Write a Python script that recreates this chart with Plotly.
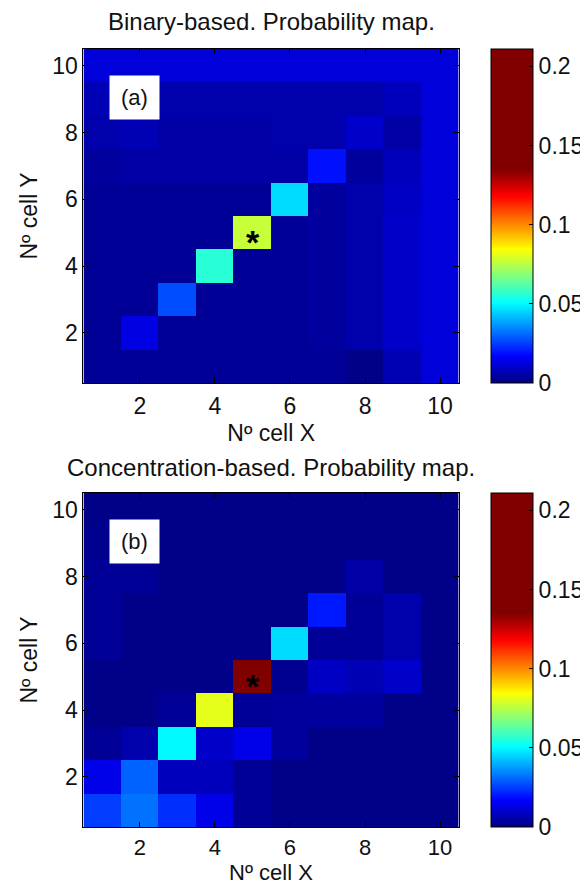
import plotly.graph_objects as go

# Cell indices
cells_x = [1, 2, 3, 4, 5, 6, 7, 8, 9, 10]
cells_y = [1, 2, 3, 4, 5, 6, 7, 8, 9, 10]
x_ticks = [2, 4, 6, 8, 10]
y_ticks = [2, 4, 6, 8, 10]
cbar_ticks = [0, 0.05, 0.1, 0.15, 0.2]
cbar_labels = ["0", "0.05", "0.1", "0.15", "0.2"]

title_a = "Binary-based. Probability map."
title_b = "Concentration-based. Probability map."
x_title = "Nº cell X"
y_title = "Nº cell Y"

# Probability values, rows listed from Y=10 (top) down to Y=1 (bottom)
prob_binary_rows = [
    [0.012, 0.012, 0.012, 0.012, 0.012, 0.012, 0.012, 0.012, 0.012, 0.012],
    [0.007, 0.007, 0.006, 0.006, 0.006, 0.006, 0.006, 0.006, 0.008, 0.012],
    [0.006, 0.007, 0.005, 0.005, 0.005, 0.006, 0.006, 0.010, 0.005, 0.012],
    [0.004, 0.005, 0.005, 0.005, 0.005, 0.005, 0.019, 0.004, 0.008, 0.012],
    [0.003, 0.003, 0.003, 0.003, 0.003, 0.046, 0.004, 0.006, 0.009, 0.012],
    [0.003, 0.003, 0.003, 0.003, 0.077, 0.003, 0.004, 0.006, 0.010, 0.012],
    [0.003, 0.003, 0.003, 0.056, 0.003, 0.003, 0.004, 0.006, 0.010, 0.012],
    [0.003, 0.003, 0.027, 0.003, 0.003, 0.003, 0.004, 0.006, 0.010, 0.012],
    [0.003, 0.013, 0.003, 0.003, 0.003, 0.003, 0.004, 0.006, 0.010, 0.012],
    [0.003, 0.003, 0.003, 0.003, 0.003, 0.003, 0.003, 0.001, 0.007, 0.012],
]

prob_conc_rows = [
    [0.001, 0.001, 0.001, 0.001, 0.001, 0.001, 0.001, 0.001, 0.001, 0.001],
    [0.002, 0.002, 0.001, 0.001, 0.001, 0.001, 0.001, 0.001, 0.001, 0.001],
    [0.003, 0.003, 0.001, 0.001, 0.001, 0.001, 0.001, 0.005, 0.001, 0.001],
    [0.003, 0.001, 0.001, 0.001, 0.001, 0.001, 0.020, 0.003, 0.006, 0.001],
    [0.003, 0.001, 0.001, 0.001, 0.001, 0.046, 0.003, 0.003, 0.006, 0.001],
    [0.001, 0.001, 0.001, 0.001, 0.200, 0.002, 0.009, 0.007, 0.010, 0.001],
    [0.001, 0.001, 0.003, 0.081, 0.003, 0.004, 0.004, 0.004, 0.001, 0.001],
    [0.003, 0.006, 0.050, 0.010, 0.014, 0.004, 0.001, 0.001, 0.001, 0.001],
    [0.014, 0.030, 0.008, 0.008, 0.003, 0.001, 0.001, 0.001, 0.001, 0.001],
    [0.025, 0.032, 0.023, 0.014, 0.003, 0.001, 0.001, 0.001, 0.001, 0.001],
]

source_x = 5
source_y = 5

z_min = 0.0
z_max = 0.211

# jet colormap saturating at ~0.135, dark red above
jet_scale = [
    [0.00, "rgb(0,0,128)"],
    [0.08, "rgb(0,0,255)"],
    [0.24, "rgb(0,255,255)"],
    [0.40, "rgb(255,255,0)"],
    [0.56, "rgb(255,0,0)"],
    [0.64, "rgb(128,0,0)"],
    [1.00, "rgb(128,0,0)"],
]

FONT = "Liberation Sans, Arial, sans-serif"
OFF = 8  # default page body margin
W, H = 588 - OFF, 886 - OFF

z_a = prob_binary_rows[::-1]
z_b = prob_conc_rows[::-1]

fig = go.Figure()

def py(p):
    return 1 - (p - OFF) / H

def px(p):
    return (p - OFF) / W

panels = [
    dict(z=z_a, xa="x", ya="y", top=49, bot=383, label="(a)", title=title_a, title_y=21),
    dict(z=z_b, xa="x2", ya="y2", top=493, bot=827, label="(b)", title=title_b, title_y=467),
]

for p in panels:
    cy = py((p["top"] + p["bot"]) / 2)
    fig.add_trace(go.Heatmap(
        x=cells_x, y=cells_y, z=p["z"], xaxis=p["xa"], yaxis=p["ya"],
        zmin=z_min, zmax=z_max, colorscale=jet_scale,
        colorbar=dict(
            x=px(494), xanchor="left", xpad=0, ypad=0,
            y=cy, yanchor="middle", len=p["bot"] - p["top"], lenmode="pixels",
            thickness=42, thicknessmode="pixels",
            outlinecolor="black", outlinewidth=1,
            tickvals=cbar_ticks, ticktext=cbar_labels,
            ticks="inside", ticklen=4, tickcolor="black",
            tickfont=dict(family=FONT, size=23, color="#111"),
        ),
        hoverinfo="skip",
    ))

axis_common = dict(
    range=[0.5, 10.5], showline=True, linecolor="black", linewidth=1,
    mirror="ticks", ticks="inside", ticklen=5, tickcolor="black",
    tickfont=dict(family=FONT, size=23, color="#111"), showgrid=False,
    zeroline=False, fixedrange=True,
)

x_dom = [px(84), px(462)]
x_mid = (x_dom[0] + x_dom[1]) / 2
title_font = dict(family=FONT, size=23, color="#111")
fig.update_layout(
    width=W, height=H, margin=dict(l=0, r=0, t=0, b=0),
    paper_bgcolor="white", plot_bgcolor="white", showlegend=False,
    xaxis=dict(axis_common, domain=x_dom, anchor="y", tickvals=x_ticks, ticklabelstandoff=2,
               title=dict(text=x_title, font=title_font, standoff=7)),
    yaxis=dict(axis_common, domain=[py(383), py(49)], anchor="x", tickvals=y_ticks,
               title=dict(text=y_title, font=title_font, standoff=8)),
    xaxis2=dict(axis_common, domain=x_dom, anchor="y2", tickvals=x_ticks, ticklabelstandoff=1,
                tickfont=dict(family=FONT, size=22, color="#111")),
    yaxis2=dict(axis_common, domain=[py(827), py(493)], anchor="x2", tickvals=y_ticks,
                title=dict(text=y_title, font=title_font, standoff=8)),
)

# bottom panel x-axis title, placed at the foot of the figure
fig.add_annotation(
    x=x_mid, y=0, xref="paper", yref="paper", text=x_title, showarrow=False,
    yanchor="bottom", borderpad=0, font=dict(family=FONT, size=22, color="#111"),
)

for i, p in enumerate(panels):
    sfx = "" if i == 0 else "2"
    fig.add_annotation(
        x=1.86, y=9.05, xref="x" + sfx, yref="y" + sfx, text=p["label"],
        showarrow=False, bgcolor="white", width=47, height=41,
        font=dict(family=FONT, size=22, color="#111"), align="center", valign="middle",
    )
    fig.add_annotation(
        x=source_x, y=source_y, xref="x" + sfx, yref="y" + sfx, text="<b>*</b>",
        showarrow=False, yshift=-9, xshift=1,
        font=dict(family=FONT, size=34, color="black"),
    )
    fig.add_annotation(
        x=x_mid, y=py(p["title_y"]), xref="paper", yref="paper",
        text=p["title"], showarrow=False, yanchor="middle", borderpad=0,
        font=dict(family=FONT, size=24, color="#111"),
    )

fig.write_html("out.html")
